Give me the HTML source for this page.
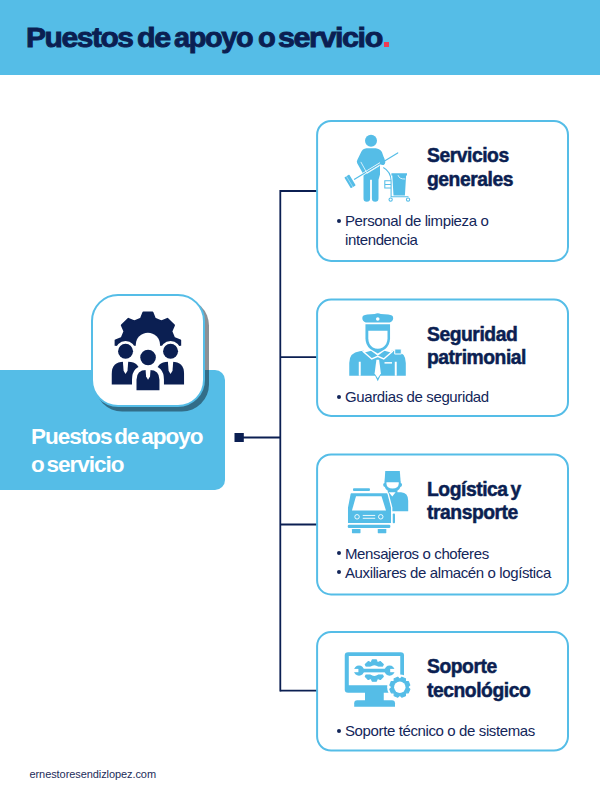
<!DOCTYPE html>
<html lang="es">
<head>
<meta charset="utf-8">
<title>Puestos de apoyo o servicio</title>
<style>
*{margin:0;padding:0;box-sizing:border-box}
html,body{width:600px;height:800px;overflow:hidden;background:#fff}
body{position:relative;font-family:"Liberation Sans",sans-serif;color:#0b1f52}
.abs{position:absolute}
#hdr{left:0;top:0;width:600px;height:75px;background:#55bde7}
#title{left:0;top:0;width:600px;height:75px}
#title i{font-style:normal;position:absolute;top:21.6px;transform-origin:0 0;font-weight:bold;font-size:28px;line-height:32px;letter-spacing:-1.3px;white-space:nowrap;color:#0b1f52;-webkit-text-stroke:0.9px #0b1f52}
.h{font-weight:bold;font-size:19.3px;line-height:23.5px;letter-spacing:-0.45px;word-spacing:-2px;white-space:nowrap;color:#0b1f52;-webkit-text-stroke:0.5px #0b1f52}
.b{font-size:15px;line-height:19px;letter-spacing:-0.38px;word-spacing:0px;white-space:nowrap;color:#13265a}
.dot{width:4px;height:4px;border-radius:50%;background:#13265a}
#lbox{left:0;top:370px;width:225px;height:120px;background:#55bde7;border-radius:0 10px 10px 0}
#ltext{left:31px;top:423px;font-weight:bold;font-size:22.5px;line-height:27.7px;letter-spacing:-1.0px;word-spacing:-2.5px;color:#fff;white-space:nowrap}
#ibox{left:91px;top:294px;width:114.3px;height:113px;border-radius:27px;background:#fff;border:2px solid #55bde7;box-shadow:4px 4.5px 0 rgba(10,20,30,0.47)}
#foot{left:29.5px;top:766.5px;font-size:11px;line-height:14px;letter-spacing:-0.08px;color:#1d2d5a;white-space:nowrap}
svg{position:absolute;left:0;top:0}
</style>
</head>
<body>
<div id="hdr" class="abs"></div>
<div id="title" class="abs"><i style="left:26px;transform:scaleX(1.068)">Puestos</i><i style="left:137px;transform:scaleX(1.087)">de</i><i style="left:173.7px;transform:scaleX(1.03)">apoyo</i><i style="left:257.7px;transform:scaleX(1.04)">o</i><i style="left:278.2px;transform:scaleX(1.088)">servicio</i></div>
<div class="abs" style="left:383.5px;top:42.3px;width:5.8px;height:5.2px;background:#ef3b54"></div>

<!-- connectors -->
<svg width="600" height="800" viewBox="0 0 600 800">
<g stroke="#0b1f52" stroke-width="1.8" fill="none">
<path d="M243 437.5H280.3"/>
<path d="M280.3 190.1V691.5"/>
<path d="M280.3 191H317M280.3 357.2H317M280.3 524.5H317M280.3 690.6H317"/>
</g>
<rect x="234.5" y="433" width="9.3" height="9" fill="#0b1f52"/>
<g stroke="#55bde7" stroke-width="2" fill="#fff">
<rect x="317.1" y="120.9" width="250.9" height="140" rx="14" ry="14"/>
<rect x="317.1" y="299.6" width="250.9" height="116.3" rx="14" ry="14"/>
<rect x="317.1" y="454.4" width="250.9" height="140.1" rx="14" ry="14"/>
<rect x="317.1" y="632" width="250.9" height="118.6" rx="14" ry="14"/>
</g>
</svg>

<div id="lbox" class="abs"></div>
<div id="ibox" class="abs"></div>
<div id="ltext" class="abs">Puestos de apoyo<br>o servicio</div>


<div class="abs h" style="left:427px;top:144.1px">Servicios<br>generales</div>
<div class="abs b" style="left:345px;top:211px">Personal de limpieza o<br>intendencia</div>
<div class="abs dot" style="left:336.5px;top:218.5px"></div>

<div class="abs h" style="left:427px;top:322.6px">Seguridad<br>patrimonial</div>
<div class="abs b" style="left:345px;top:387.3px">Guardias de seguridad</div>
<div class="abs dot" style="left:336.5px;top:394.8px"></div>

<div class="abs h" style="left:427px;top:477.6px">Log&iacute;stica y<br>transporte</div>
<div class="abs b" style="left:345px;top:543.5px">Mensajeros o choferes<br>Auxiliares de almac&eacute;n o log&iacute;stica</div>
<div class="abs dot" style="left:336.5px;top:551px"></div><div class="abs dot" style="left:336.5px;top:570px"></div>

<div class="abs h" style="left:427px;top:655.3px">Soporte<br>tecnol&oacute;gico</div>
<div class="abs b" style="left:345px;top:721.3px">Soporte t&eacute;cnico o de sistemas</div>
<div class="abs dot" style="left:336.5px;top:728.8px"></div>

<div id="foot" class="abs">ernestoresendizlopez.com</div>

<!-- icons -->
<svg id="icons" width="600" height="800" viewBox="0 0 600 800">
<!--MAIN-->
<g transform="translate(105,305) scale(0.15)">
<clipPath id="gc"><rect x="0" y="0" width="600" height="272"/></clipPath>
<path clip-path="url(#gc)" fill="#0b1f52" stroke="#0b1f52" stroke-width="14" stroke-linejoin="round" d="M332.6 92.1 L316.2 51.1 L255.8 51.1 L239.4 92.1 L196.0 110.1 L155.4 92.7 L112.7 135.4 L130.1 176.0 L112.1 219.4 L71.1 235.8 L71.1 296.2 L112.1 312.6 L130.1 356.0 L112.7 396.6 L155.4 439.3 L196.0 421.9 L239.4 439.9 L255.8 480.9 L316.2 480.9 L332.6 439.9 L376.0 421.9 L416.6 439.3 L459.3 396.6 L441.9 356.0 L459.9 312.6 L500.9 296.2 L500.9 235.8 L459.9 219.4 L441.9 176.0 L459.3 135.4 L416.6 92.7 L376.0 110.1Z"/>
<circle cx="286" cy="266" r="81" fill="#fff"/>
<circle cx="137" cy="308" r="68" fill="#fff"/>
<circle cx="437" cy="308" r="68" fill="#fff"/>
<circle cx="137" cy="308" r="50" fill="#0b1f52"/>
<circle cx="437" cy="308" r="50" fill="#0b1f52"/>
<path fill="#0b1f52" d="M45 530V458Q45 378 125 378H155Q232 378 232 458V530Z"/>
<path fill="#0b1f52" d="M342 530V458Q342 378 422 378H447Q527 378 527 458V530Z"/>
<path fill="#fff" d="M119 374H155L150 438L137 460L124 438Z"/>
<path fill="#fff" d="M419 374H455L450 438L437 460L424 438Z"/>
<path fill="#0b1f52" stroke="#fff" stroke-width="30" d="M195 585V498Q195 418 275 418H298Q378 418 378 498V585Z"/>
<rect x="150" y="570" width="280" height="40" fill="#fff"/>
<circle cx="287" cy="350" r="66" fill="#fff"/>
<circle cx="287" cy="350" r="52" fill="#0b1f52"/>
<path fill="#fff" d="M269 414H305L300 476L287 498L274 476Z"/>
</g>
<!--/MAIN-->
<!--I1-->
<g transform="translate(335,125) scale(0.15)" fill="#55bde7">
<circle cx="240" cy="105" r="40"/>
<path d="M210 155H272Q312 160 318 195L334 240Q338 258 322 266L300 262V330L290 365V490Q290 512 268 512Q246 512 246 490V365H234V490Q234 512 212 512Q190 512 190 490V330L148 255Q142 243 150 230L172 185Q182 158 210 155Z"/>
<path d="M418 186L130 362" stroke="#fff" stroke-width="17" fill="none"/>
<path d="M300 262L322 266Q338 258 334 240L325 215L300 225Z"/>
<path d="M418 186L130 362" stroke="#55bde7" stroke-width="8" fill="none" stroke-linecap="round"/>
<path d="M172 246L214 322L296 272" stroke="#fff" stroke-width="5" fill="none" stroke-linejoin="round"/>
<g transform="translate(100,376) rotate(-31)"><rect x="-19" y="-42" width="38" height="84" rx="4"/><path d="M-3 -42V42" stroke="#fff" stroke-width="2.5"/></g>
<path d="M376 322H480V336H474L466 470H390L382 336H376Z"/>
<path d="M420 334Q428 362 468 360" stroke="#fff" stroke-width="5" fill="none"/>
<path d="M322 283Q372 310 374 372V478H490" stroke="#55bde7" stroke-width="7" fill="none"/>
<path d="M374 372H332V420H374M332 396H374" stroke="#55bde7" stroke-width="7" fill="none"/>
<circle cx="371" cy="497" r="11" fill="#fff" stroke="#55bde7" stroke-width="7"/>
<circle cx="487" cy="497" r="11" fill="#fff" stroke="#55bde7" stroke-width="7"/>
</g>
<!--/I1-->
<!--I2-->
<g transform="translate(335,300) scale(0.15)" fill="#55bde7">
<path d="M182 120Q182 100 215 97L265 93Q285 84 305 93L355 97Q388 100 388 120Q388 140 365 150H205Q182 140 182 120Z"/>
<circle cx="285" cy="127" r="12" fill="#fff"/>
<path d="M95 505V420Q95 350 165 342L200 336H370L405 342Q472 350 472 420V505Z"/>
<path d="M265 500H305L285 542Z"/>
<path fill="#fff" d="M192 352L240 338L285 371L330 338L378 352V318H192Z"/>
<path d="M184 340L245 393L285 375L325 393L386 340" stroke="#fff" stroke-width="10" fill="none" stroke-linejoin="miter"/>
<path d="M203 161H367V255Q367 300 335 326L285 357L235 326Q203 300 203 255Z"/>
<path fill="#fff" d="M222 205H350V255Q350 295 318 316Q285 334 252 316Q222 295 222 255Z"/>
<path fill="#fff" d="M276 398H294L306 490L285 522L264 490Z"/>
<path d="M165 412V505M405 412V505" stroke="#fff" stroke-width="13"/>
<path d="M330 419H380" stroke="#fff" stroke-width="10"/>
<rect x="398" y="326" width="44" height="34" rx="4" stroke="#fff" stroke-width="7"/>
</g>
<!--/I2-->
<!--I3-->
<g transform="translate(335,455) scale(0.15)" fill="#55bde7">
<path d="M335 107H432L438 182H330Z"/>
<path d="M330 178H438V186Q447 186 447 198Q447 211 436 213Q427 244 384 244Q341 244 332 213Q321 211 321 198Q321 186 330 186Z"/>
<path fill="#fff" d="M343 181H425V192Q423 224 384 224Q345 224 343 192Z"/>
<path d="M340 375V249H352V236H416V249H440Q488 252 488 305V375Z"/>
<path fill="#fff" d="M359 248L382 276L404 248Z"/>
<path stroke="#fff" stroke-width="9" d="M108 250H345Q352 250 354 258L378 350V458H82V350L100 258Q102 250 108 250Z"/>
<rect x="120" y="222" width="113" height="18" rx="6"/>
<path fill="#fff" d="M140 275H310L340 370H113Z"/>
<circle cx="147" cy="412" r="15" fill="#55bde7" stroke="#fff" stroke-width="6"/>
<circle cx="305" cy="412" r="15" fill="#55bde7" stroke="#fff" stroke-width="6"/>
<path d="M185 403H268M185 422H268" stroke="#fff" stroke-width="6"/>
<rect x="85" y="465" width="284" height="21" rx="8"/>
<rect x="113" y="493" width="57" height="28" rx="3"/>
<rect x="285" y="493" width="57" height="28" rx="3"/>
<rect x="385" y="390" width="15" height="65" rx="6"/>
</g>
<!--/I3-->
<!--I4-->
<g transform="translate(335,635) scale(0.15)" fill="#55bde7">
<rect x="65" y="115" width="395" height="270" rx="22"/>
<rect x="92" y="140" width="343" height="195" fill="#fff"/>
<rect x="200" y="380" width="125" height="60"/>
<path d="M128 478V455Q128 435 148 435H380Q400 435 400 455V478Z"/>
<path stroke="#55bde7" stroke-width="8" stroke-linejoin="round" d="M281.8 182.5 L275.7 166.3 L248.3 166.3 L242.2 182.5 L237.5 184.4 L221.7 177.3 L202.3 196.7 L209.4 212.5 L207.5 217.2 L191.3 223.3 L191.3 250.7 L207.5 256.8 L209.4 261.5 L202.3 277.3 L221.7 296.7 L237.5 289.6 L242.2 291.5 L248.3 307.7 L275.7 307.7 L281.8 291.5 L286.5 289.6 L302.3 296.7 L321.7 277.3 L314.6 261.5 L316.5 256.8 L332.7 250.7 L332.7 223.3 L316.5 217.2 L314.6 212.5 L321.7 196.7 L302.3 177.3 L286.5 184.4Z"/>
<circle cx="262" cy="237" r="36" fill="#fff"/>
<rect x="120" y="211" width="290" height="52" fill="#fff"/>
<circle cx="158" cy="237" r="38" fill="#fff"/><circle cx="366" cy="237" r="38" fill="#fff"/>
<rect x="165" y="225" width="195" height="24"/>
<circle cx="160" cy="237" r="34"/><circle cx="364" cy="237" r="34"/><rect x="118" y="226" width="38" height="22" fill="#fff"/><rect x="368" y="226" width="38" height="22" fill="#fff"/>
<circle cx="432" cy="348" r="84" fill="#fff"/>
<path stroke="#55bde7" stroke-width="8" stroke-linejoin="round" d="M469.1 306.1 L469.5 291.3 L445.6 281.4 L435.4 292.1 L428.6 292.1 L418.4 281.4 L394.5 291.3 L394.9 306.1 L390.1 310.9 L375.3 310.5 L365.4 334.4 L376.1 344.6 L376.1 351.4 L365.4 361.6 L375.3 385.5 L390.1 385.1 L394.9 389.9 L394.5 404.7 L418.4 414.6 L428.6 403.9 L435.4 403.9 L445.6 414.6 L469.5 404.7 L469.1 389.9 L473.9 385.1 L488.7 385.5 L498.6 361.6 L487.9 351.4 L487.9 344.6 L498.6 334.4 L488.7 310.5 L473.9 310.9Z"/>
<circle cx="432" cy="348" r="38" fill="#fff"/>
</g>
<!--/I4-->
</svg>
</body>
</html>
